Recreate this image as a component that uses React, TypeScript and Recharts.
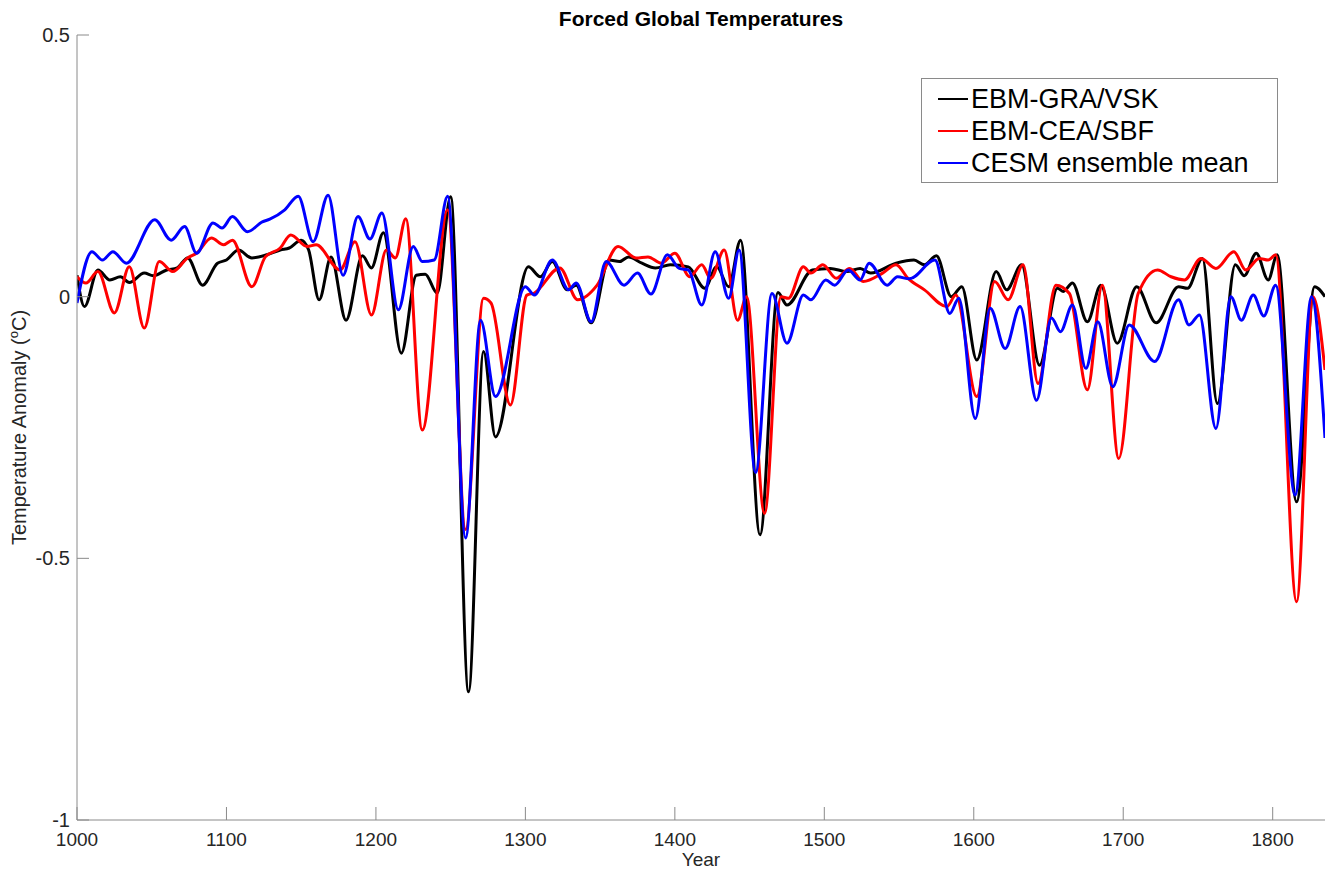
import React from "react";
import { LineChart, Line, XAxis, YAxis } from "recharts";

// values (year, anomaly in degC)
const graYears = [1000, 1005, 1014, 1022, 1029, 1035, 1045, 1051, 1060, 1067, 1074, 1084, 1094, 1100, 1108, 1117, 1127, 1136, 1142, 1150, 1155, 1162, 1170, 1180, 1191, 1197, 1205, 1217, 1227, 1233, 1241, 1250, 1262, 1272, 1280, 1302, 1310, 1318, 1328, 1334, 1344, 1356, 1363, 1369, 1378, 1387, 1397, 1409, 1420, 1428, 1436, 1444, 1457, 1469, 1475, 1492, 1504, 1515, 1524, 1531, 1548, 1560, 1567, 1575, 1585, 1592, 1602, 1615, 1622, 1632, 1644, 1656, 1660, 1666, 1676, 1685, 1696, 1709, 1722, 1737, 1743, 1753, 1763, 1775, 1781, 1789, 1797, 1803, 1816, 1828, 1835];
const graTemps = [0.041, -0.019, 0.051, 0.032, 0.038, 0.027, 0.045, 0.04, 0.051, 0.055, 0.074, 0.022, 0.064, 0.07, 0.089, 0.074, 0.08, 0.089, 0.093, 0.108, 0.089, -0.006, 0.076, -0.045, 0.078, 0.055, 0.122, -0.108, 0.041, 0.043, 0.007, 0.191, -0.755, -0.105, -0.268, 0.057, 0.038, 0.067, 0.013, 0.022, -0.05, 0.07, 0.067, 0.076, 0.064, 0.055, 0.061, 0.057, 0.016, 0.057, 0.019, 0.108, -0.455, 0.008, -0.016, 0.051, 0.054, 0.048, 0.054, 0.045, 0.064, 0.07, 0.061, 0.078, 0.0, 0.019, -0.121, 0.048, 0.013, 0.061, -0.131, 0.016, 0.01, 0.026, -0.048, 0.022, -0.089, 0.019, -0.05, 0.019, 0.016, 0.073, -0.204, 0.061, 0.04, 0.083, 0.032, 0.08, -0.392, 0.019, 0.0];

const ceaYears = [1000, 1006, 1014, 1025, 1035, 1045, 1055, 1064, 1074, 1080, 1090, 1098, 1104, 1117, 1126, 1136, 1143, 1154, 1160, 1176, 1186, 1197, 1207, 1213, 1220, 1231, 1248, 1260, 1272, 1277, 1290, 1301, 1306, 1323, 1335, 1348, 1362, 1374, 1382, 1391, 1400, 1410, 1418, 1424, 1433, 1442, 1448, 1460, 1471, 1476, 1486, 1491, 1499, 1508, 1517, 1526, 1539, 1548, 1556, 1567, 1582, 1588, 1602, 1614, 1623, 1633, 1643, 1655, 1664, 1676, 1686, 1697, 1710, 1723, 1732, 1741, 1752, 1762, 1774, 1782, 1791, 1797, 1802, 1816, 1827, 1835];
const ceaTemps = [0.038, 0.026, 0.048, -0.031, 0.057, -0.06, 0.067, 0.048, 0.074, 0.083, 0.112, 0.099, 0.108, 0.019, 0.076, 0.093, 0.118, 0.096, 0.099, 0.051, 0.105, -0.035, 0.089, 0.074, 0.149, -0.255, 0.166, -0.445, -0.003, -0.012, -0.207, 0.003, 0.007, 0.055, -0.006, 0.022, 0.096, 0.074, 0.076, 0.064, 0.083, 0.038, 0.061, 0.035, 0.089, -0.045, 0.0, -0.414, 0.0, -0.003, 0.057, 0.045, 0.061, 0.035, 0.054, 0.029, 0.045, 0.061, 0.035, 0.013, -0.019, 0.003, -0.191, 0.029, -0.006, 0.061, -0.166, 0.022, 0.006, -0.178, 0.022, -0.309, 0.006, 0.051, 0.038, 0.032, 0.073, 0.054, 0.086, 0.051, 0.073, 0.07, 0.08, -0.583, 0.0, -0.14];

const cesmYears = [1000, 1010, 1017, 1024, 1033, 1052, 1063, 1072, 1080, 1091, 1097, 1104, 1114, 1124, 1129, 1139, 1148, 1158, 1168, 1178, 1188, 1196, 1204, 1215, 1225, 1231, 1239, 1248, 1260, 1270, 1280, 1300, 1306, 1318, 1329, 1334, 1344, 1354, 1366, 1375, 1384, 1395, 1403, 1409, 1418, 1427, 1436, 1443, 1454, 1465, 1475, 1486, 1491, 1501, 1507, 1516, 1524, 1530, 1542, 1549, 1557, 1574, 1584, 1590, 1601, 1611, 1621, 1631, 1642, 1652, 1658, 1666, 1675, 1683, 1693, 1704, 1721, 1737, 1744, 1751, 1762, 1772, 1779, 1787, 1794, 1802, 1815, 1826, 1835];
const cesmTemps = [-0.012, 0.086, 0.07, 0.086, 0.064, 0.147, 0.108, 0.134, 0.083, 0.141, 0.131, 0.153, 0.124, 0.143, 0.148, 0.166, 0.192, 0.105, 0.194, 0.041, 0.153, 0.11, 0.16, -0.025, 0.096, 0.067, 0.07, 0.192, -0.461, -0.045, -0.191, 0.019, 0.003, 0.07, 0.013, 0.026, -0.048, 0.067, 0.022, 0.045, 0.005, 0.08, 0.054, 0.051, -0.016, 0.086, -0.003, 0.089, -0.336, 0.006, -0.089, 0.003, -0.006, 0.032, 0.022, 0.051, 0.032, 0.064, 0.022, 0.038, 0.034, 0.07, -0.032, -0.003, -0.233, -0.022, -0.099, -0.019, -0.198, -0.041, -0.067, -0.016, -0.137, -0.048, -0.172, -0.054, -0.124, -0.006, -0.054, -0.035, -0.252, 0.0, -0.045, 0.003, -0.037, 0.022, -0.379, 0.0, -0.27];

const xTicks = [1000, 1100, 1200, 1300, 1400, 1500, 1600, 1700, 1800];
const yTicks = [-1, -0.5, 0, 0.5];
const seriesNames = ["EBM-GRA/VSK", "EBM-CEA/SBF", "CESM ensemble mean"];
const seriesColors = ["#000000", "#ff0000", "#0000ff"];

const toRows = (years, temps) => years.map((year, i) => ({ year, temp: temps[i] }));
const series = [
  toRows(graYears, graTemps),
  toRows(ceaYears, ceaTemps),
  toRows(cesmYears, cesmTemps),
];

const AXIS = "#8a8a8a";
const TXT = "#262626";
const FONT = "'Liberation Sans', Arial, Helvetica, sans-serif";

const XTick = (props) => {
  const { x, y, payload } = props;
  // y is axis + tickMargin(15); MATLAB ticks point inward
  return (
    <g>
      <line x1={x} y1={y - 15} x2={x} y2={y - 28} stroke={AXIS} strokeWidth={1} />
      <text x={x} y={y + 11} textAnchor="middle" fontSize={19} fontFamily={FONT} fill={TXT}>
        {payload.value}
      </text>
    </g>
  );
};

const YTick = (props) => {
  const { x, y, payload } = props;
  return (
    <g>
      <line x1={x + 7} y1={y} x2={x + 19} y2={y} stroke={AXIS} strokeWidth={1} />
      <text x={x} y={y + 7} textAnchor="end" fontSize={20} fontFamily={FONT} fill={TXT}>
        {payload.value}
      </text>
    </g>
  );
};

const YLabel = (props) => {
  const vb = props.viewBox || { x: 0, y: 35, width: 77, height: 785 };
  const cx = vb.x + 26;
  const cy = vb.y + vb.height / 2;
  return (
    <text
      x={cx}
      y={cy}
      transform={`rotate(-90, ${cx}, ${cy})`}
      textAnchor="middle"
      fontSize={20}
      fontFamily={FONT}
      fill={TXT}
    >
      <tspan>Temperature Anomaly (</tspan>
      <tspan fontSize={13} dy={-8}>o</tspan>
      <tspan dy={8}>C)</tspan>
    </text>
  );
};

const XLabel = (props) => {
  const vb = props.viewBox || { x: 77, y: 820, width: 1248, height: 51 };
  return (
    <text x={vb.x + vb.width / 2} y={vb.y + 46} textAnchor="middle" fontSize={19} fontFamily={FONT} fill={TXT}>
      Year
    </text>
  );
};

export default function App() {
  return (
    <div style={{ position: "absolute", left: 0, top: 0, width: 1325, height: 871, background: "#fff" }}>
      <LineChart width={1325} height={871} margin={{ top: 35, right: 0, bottom: 0, left: 0 }}>
        <XAxis
          dataKey="year"
          type="number"
          domain={[1000, 1835]}
          allowDataOverflow
          ticks={xTicks}
          height={51}
          tickSize={0}
          tickMargin={15}
          tickLine={false}
          axisLine={{ stroke: AXIS }}
          tick={<XTick />}
          label={<XLabel />}
        />
        <YAxis
          type="number"
          domain={[-1, 0.5]}
          ticks={yTicks}
          width={77}
          tickSize={0}
          tickMargin={7}
          tickLine={false}
          axisLine={{ stroke: AXIS }}
          tick={<YTick />}
          label={<YLabel />}
        />
        {series.map((rows, i) => (
          <Line
            key={seriesNames[i]}
            data={rows}
            dataKey="temp"
            name={seriesNames[i]}
            type="monotone"
            stroke={seriesColors[i]}
            strokeWidth={3}
            dot={false}
            activeDot={false}
            isAnimationActive={false}
          />
        ))}
      </LineChart>

      <div
        style={{
          position: "absolute",
          left: 0,
          top: 7,
          width: 1402,
          textAlign: "center",
          fontFamily: FONT,
          fontWeight: "bold",
          fontSize: 21,
          color: "#000",
        }}
      >
        Forced Global Temperatures
      </div>

      <div
        style={{
          position: "absolute",
          left: 921,
          top: 78,
          width: 355,
          height: 103,
          border: `1px solid ${AXIS}`,
          background: "#fff",
          fontFamily: FONT,
          fontSize: 27,
          color: "#000",
        }}
      >
        {seriesNames.map((name, i) => (
          <div key={name} style={{ position: "absolute", left: 16, top: 4 + i * 32, height: 32, display: "flex", alignItems: "center" }}>
            <svg width={30} height={4} style={{ marginRight: 3 }}>
              <line x1={0} y1={2} x2={30} y2={2} stroke={seriesColors[i]} strokeWidth={2} />
            </svg>
            <span style={{ lineHeight: "32px", whiteSpace: "nowrap" }}>{name}</span>
          </div>
        ))}
      </div>
    </div>
  );
}
